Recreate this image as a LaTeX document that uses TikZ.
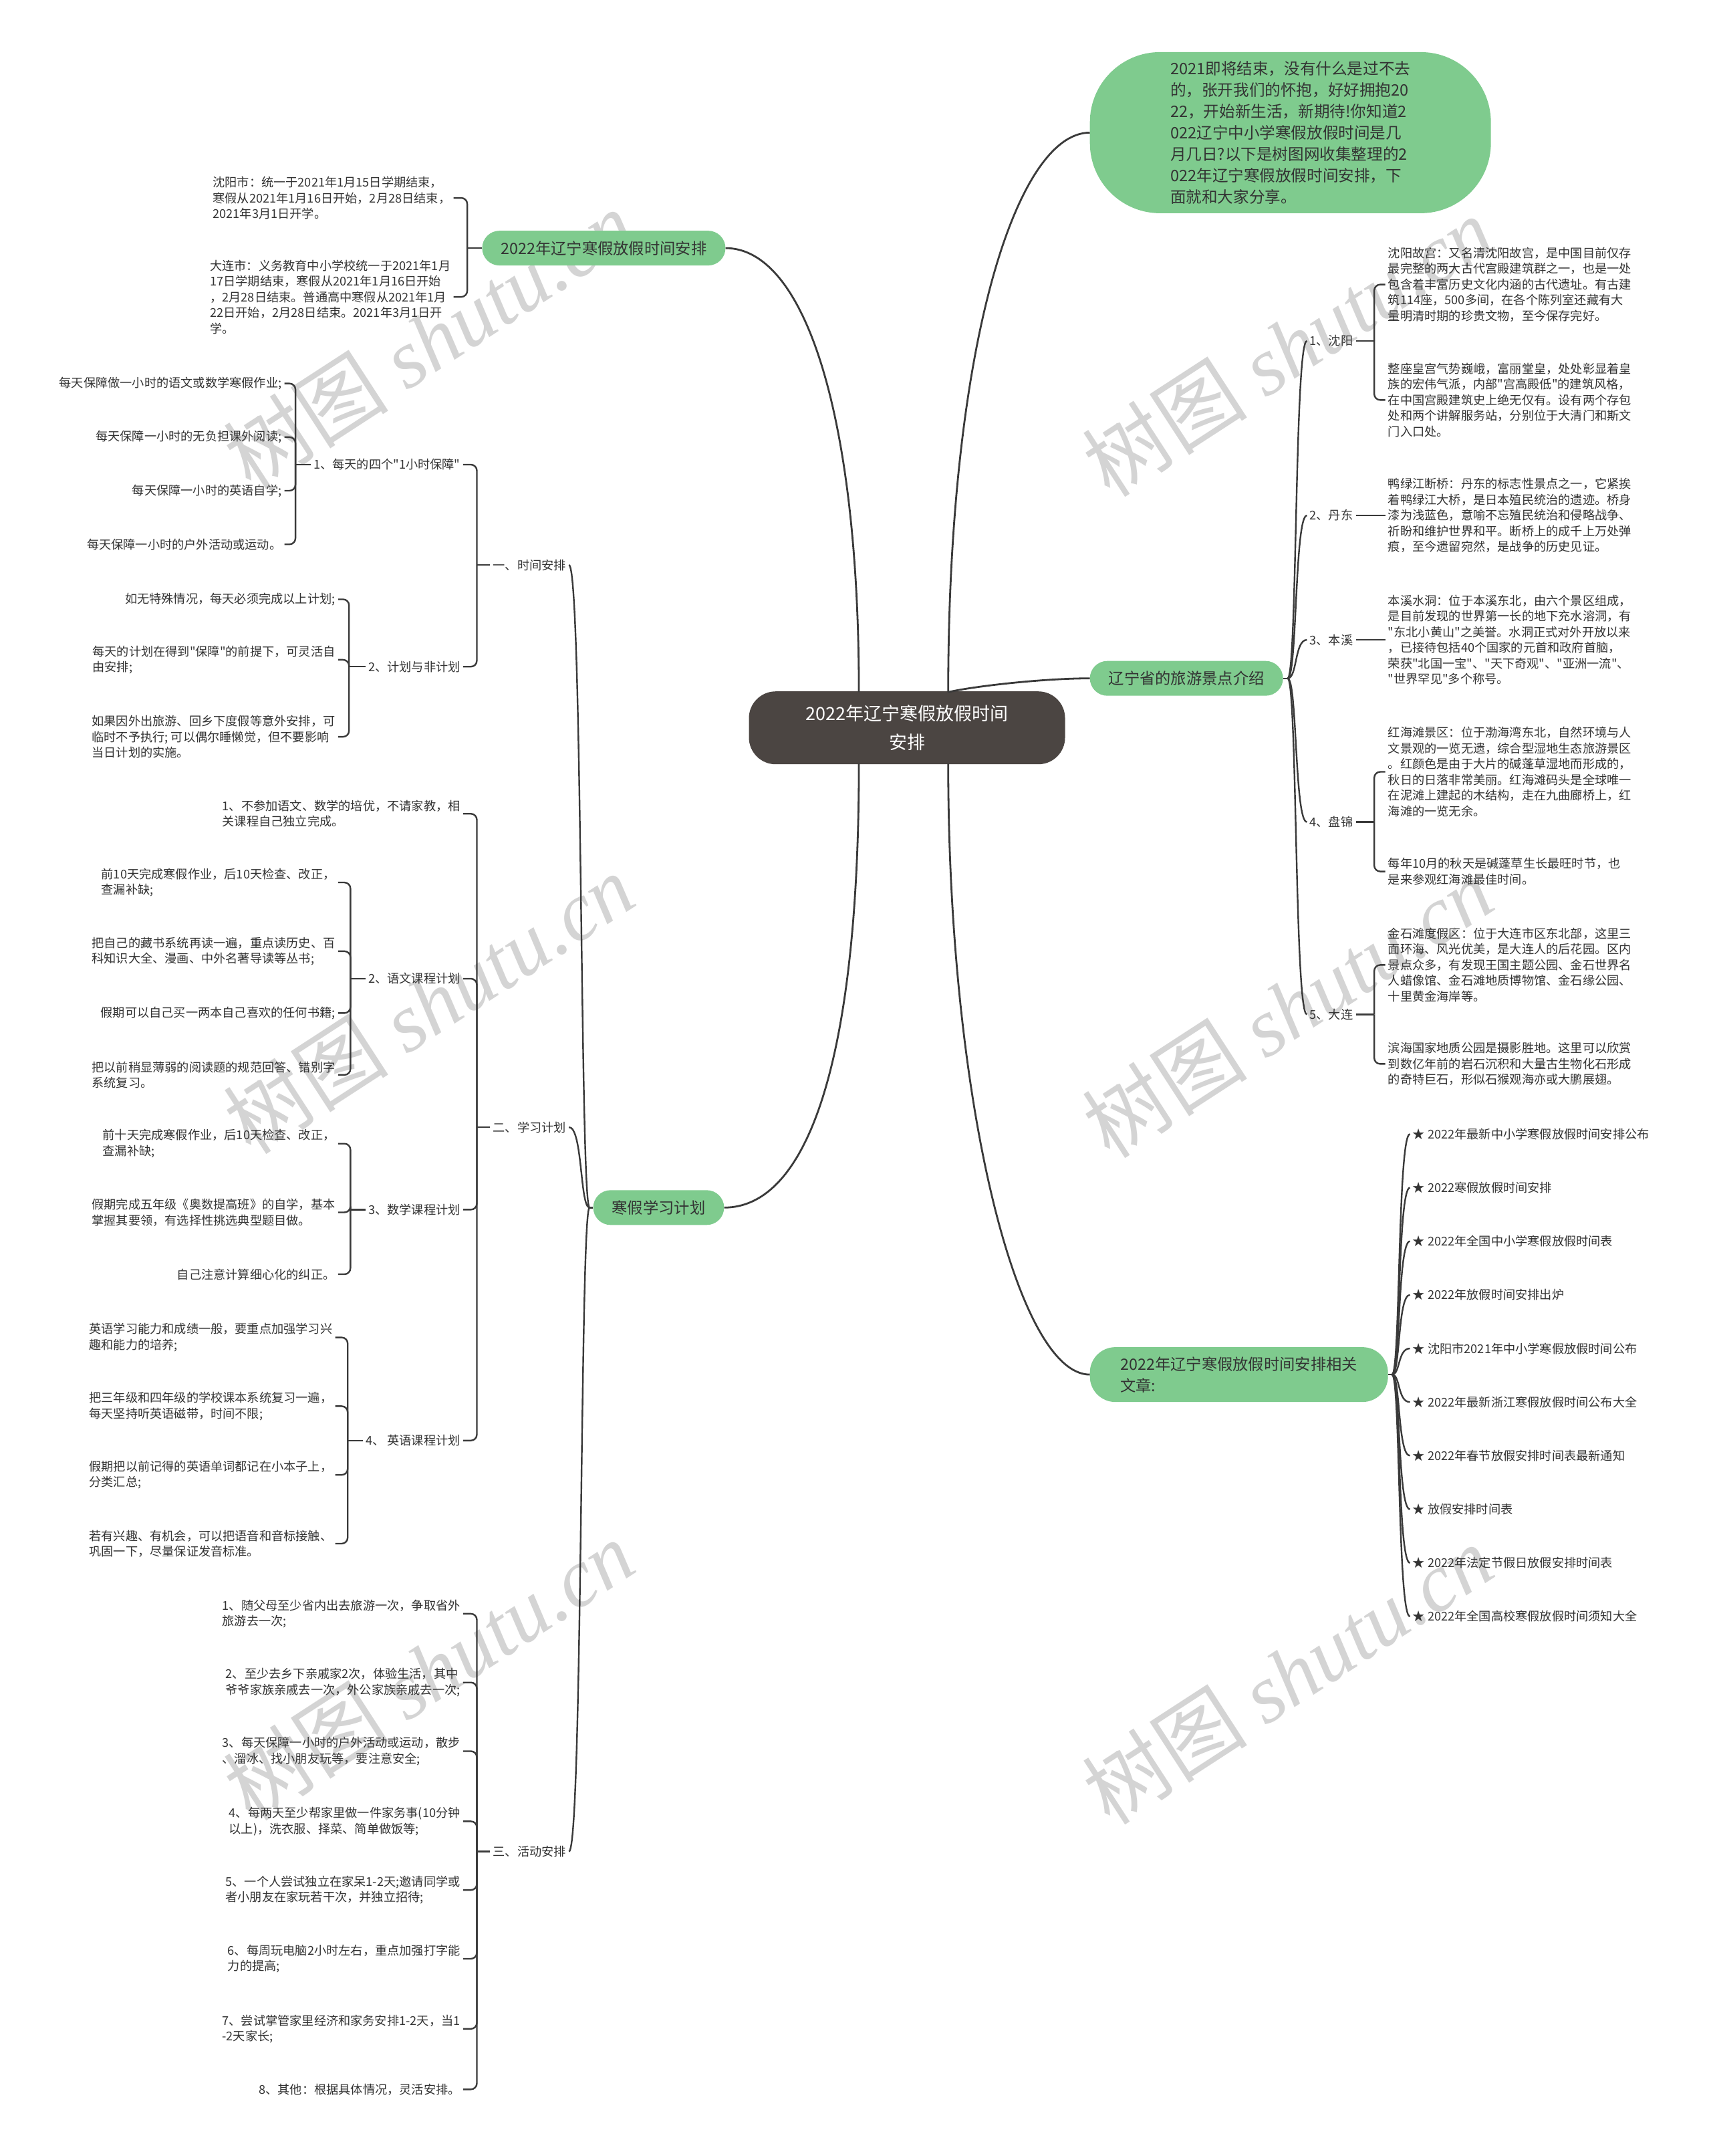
\documentclass[tikz,border=0pt]{standalone}
\usepackage{fontspec}
\setmainfont{Noto Sans CJK SC}[Ligatures=TeXOff]
\newfontfamily\wmserif{Liberation Serif}
\definecolor{linec}{HTML}{3A3A3A}
\definecolor{textc}{HTML}{333333}
\definecolor{greenc}{HTML}{7FCB8E}
\definecolor{darkc}{HTML}{4B4542}
\definecolor{wmc}{HTML}{D4D4D4}
\newcommand\bodyfs{\fontsize{18.2pt}{23.5pt}\selectfont}
\newcommand\pillfs{\fontsize{23.3pt}{32pt}\selectfont}
\newcommand\introfs{\fontsize{23.6pt}{31.9pt}\selectfont}
\newcommand\ctrfs{\fontsize{27pt}{43pt}\selectfont}
\newcommand\wmfs{\fontsize{124pt}{128pt}\selectfont}
\begin{document}
\begin{tikzpicture}[x=2.0562pt,y=-2.0562pt]
\tikzset{
 txt/.style={font=\bodyfs, text=textc, inner xsep=4.1pt, inner ysep=1pt, align=left},
 lt/.style={txt,anchor=east},
 rt/.style={txt,anchor=west},
 pill/.style={fill=greenc, rounded corners=26pt, minimum height=52pt, inner xsep=28pt, font=\pillfs, text=textc},
 br/.style={draw=linec, line width=2.4pt, rounded corners=9pt},
 cv/.style={draw=linec, line width=2.4pt},
 mainln/.style={draw=linec, line width=2.8pt},
 wm/.style={text=wmc, font=\wmfs, inner sep=0pt, rotate=33},
}
\fill[white] (0,0) rectangle (1245,1568.5);
\useasboundingbox (0,0) rectangle (1245,1568.5);

% watermarks
\node[wm] (w1) at (312,247) {树图 {\wmserif\itshape shutu.cn}};
\node[wm] (w2) at (937,252) {树图 {\wmserif\itshape shutu.cn}};
\node[wm] (w3) at (312,730) {树图 {\wmserif\itshape shutu.cn}};
\node[wm] (w4) at (937,733) {树图 {\wmserif\itshape shutu.cn}};
\node[wm] (w5) at (312,1215) {树图 {\wmserif\itshape shutu.cn}};
\node[wm] (w6) at (937,1218) {树图 {\wmserif\itshape shutu.cn}};

% center and main branches
\node[fill=darkc, text=white, rounded corners=40pt, minimum width=473pt, minimum height=109pt, font=\ctrfs, align=center] (ctr) at (660,529.5) {2022年辽宁寒假放假时间\\安排};
\node[pill, anchor=east] (b1) at (528,180.5) {2022年辽宁寒假放假时间安排};
\node[pill, anchor=east] (b2) at (527,878.5) {寒假学习计划};
\node[pill, anchor=west] (b3) at (793,493.5) {辽宁省的旅游景点介绍};
\node[pill, anchor=west, align=left, minimum width=446pt, minimum height=82pt, rounded corners=38pt] (b4) at (793,1000) {2022年辽宁寒假放假时间安排相关\\文章:};
\node[fill=greenc, rounded corners=105pt, minimum width=600pt, minimum height=241pt, font=\introfs, text=textc, align=left, anchor=west] (intro) at (793,96.5) {2021即将结束，没有什么是过不去\\的，张开我们的怀抱，好好拥抱20\\22，开始新生活，新期待!你知道2\\022辽宁中小学寒假放假时间是几\\月几日?以下是树图网收集整理的2\\022年辽宁寒假放假时间安排，下\\面就和大家分享。};

\coordinate (cLt) at (625,503.5);
\coordinate (cLb) at (625,555.5);
\coordinate (cRt) at (690,503.5);
\coordinate (cRb) at (690,555.5);
\draw[mainln] (cLt) .. controls (625,300) and (585,180.5) .. (b1.east);
\draw[mainln] (cLb) .. controls (625,780) and (585,878.5) .. (b2.east);
\draw[mainln] (cRt) .. controls (690,250) and (740,96.5) .. (intro.west);
\draw[mainln] (cRt) .. controls (710,499) and (760,493.5) .. (b3.west);
\draw[mainln] (cRb) .. controls (690,800) and (740,1000) .. (b4.west);

% ---------- left top: 2022年辽宁寒假放假时间安排
\node[lt] (a1) at (330,144) {沈阳市：统一于2021年1月15日学期结束，\\寒假从2021年1月16日开始，2月28日结束，\\2021年3月1日开学。};
\node[lt] (a2) at (330,216) {大连市：义务教育中小学校统一于2021年1月\\17日学期结束，寒假从2021年1月16日开始\\，2月28日结束。普通高中寒假从2021年1月\\22日开始，2月28日结束。2021年3月1日开\\学。};
\draw[br] (a1.east) -| (340,180.5);
\draw[br] (a2.east) -| (340,180.5);
\draw[br] (340,180.5) -- (b1.west);

% ---------- left bottom: 寒假学习计划
\node[lt] (t1) at (414,411) {一、时间安排};
\node[lt] (t2) at (414,820) {二、学习计划};
\node[lt] (t3) at (414,1347) {三、活动安排};
\coordinate (jb2) at (429,878.5);
\draw[cv] (b2.west) -- (jb2);
\draw[cv] (jb2) .. controls (422,878.5) and (424,411) .. (t1.east);
\draw[cv] (jb2) .. controls (422,878.5) and (424,820) .. (t2.east);
\draw[cv] (jb2) .. controls (422,878.5) and (424,1347) .. (t3.east);

% 一、时间安排
\node[lt] (u1) at (337,338) {1、每天的四个"1小时保障"};
\node[lt] (u2) at (337,485) {2、计划与非计划};
\draw[br] (u1.east) -| (347,411);
\draw[br] (u2.east) -| (347,411);
\draw[br] (347,411) -- (t1.west);

\node[lt] (d1) at (207,279) {每天保障做一小时的语文或数学寒假作业;};
\node[lt] (d2) at (207,318) {每天保障一小时的无负担课外阅读;};
\node[lt] (d3) at (207,357) {每天保障一小时的英语自学;};
\node[lt] (d4) at (207,396) {每天保障一小时的户外活动或运动。};
\foreach \n in {d1,d2,d3,d4} {\draw[br] (\n.east) -| (215,338);}
\draw[br] (215,338) -- (u1.west);

\node[lt] (e1) at (246,436) {如无特殊情况，每天必须完成以上计划;};
\node[lt] (e2) at (246,480) {每天的计划在得到"保障"的前提下，可灵活自\\由安排;};
\node[lt] (e3) at (246,536) {如果因外出旅游、回乡下度假等意外安排，可\\临时不予执行; 可以偶尔睡懒觉，但不要影响\\当日计划的实施。};
\foreach \n in {e1,e2,e3} {\draw[br] (\n.east) -| (254,485);}
\draw[br] (254,485) -- (u2.west);

% 二、学习计划
\node[lt] (v1) at (337,592) {1、不参加语文、数学的培优，不请家教，相\\关课程自己独立完成。};
\node[lt] (v2) at (337,712) {2、语文课程计划};
\node[lt] (v3) at (337,880) {3、数学课程计划};
\node[lt] (v4) at (337,1048) {4、 英语课程计划};
\foreach \n in {v1,v2,v3,v4} {\draw[br] (\n.east) -| (347,820);}
\draw[br] (347,820) -- (t2.west);

\node[lt] (g1) at (246,642) {前10天完成寒假作业，后10天检查、改正，\\查漏补缺;};
\node[lt] (g2) at (246,692) {把自己的藏书系统再读一遍，重点读历史、百\\科知识大全、漫画、中外名著导读等丛书;};
\node[lt] (g3) at (246,737) {假期可以自己买一两本自己喜欢的任何书籍;};
\node[lt] (g4) at (246,782) {把以前稍显薄弱的阅读题的规范回答、错别字\\系统复习。};
\foreach \n in {g1,g2,g3,g4} {\draw[br] (\n.east) -| (255,712);}
\draw[br] (255,712) -- (v2.west);

\node[lt] (h1) at (246,832) {前十天完成寒假作业，后10天检查、改正，\\查漏补缺;};
\node[lt] (h2) at (246,882) {假期完成五年级《奥数提高班》的自学，基本\\掌握其要领，有选择性挑选典型题目做。};
\node[lt] (h3) at (246,927) {自己注意计算细心化的纠正。};
\foreach \n in {h1,h2,h3} {\draw[br] (\n.east) -| (255,880);}
\draw[br] (255,880) -- (v3.west);

\node[lt] (i1) at (244,973) {英语学习能力和成绩一般，要重点加强学习兴\\趣和能力的培养;};
\node[lt] (i2) at (244,1023) {把三年级和四年级的学校课本系统复习一遍，\\每天坚持听英语磁带，时间不限;};
\node[lt] (i3) at (244,1073) {假期把以前记得的英语单词都记在小本子上，\\分类汇总;};
\node[lt] (i4) at (244,1123) {若有兴趣、有机会，可以把语音和音标接触、\\巩固一下，尽量保证发音标准。};
\foreach \n in {i1,i2,i3,i4} {\draw[br] (\n.east) -| (253,1048);}
\draw[br] (253,1048) -- (v4.west);

% 三、活动安排
\node[lt] (j1) at (337,1174) {1、随父母至少省内出去旅游一次，争取省外\\旅游去一次;};
\node[lt] (j2) at (337,1224) {2、至少去乡下亲戚家2次，体验生活，其中\\爷爷家族亲戚去一次，外公家族亲戚去一次;};
\node[lt] (j3) at (337,1274) {3、每天保障一小时的户外活动或运动，散步\\、溜冰、找小朋友玩等，要注意安全;};
\node[lt] (j4) at (337,1325) {4、每两天至少帮家里做一件家务事(10分钟\\以上)，洗衣服、择菜、简单做饭等;};
\node[lt] (j5) at (337,1375) {5、一个人尝试独立在家呆1-2天;邀请同学或\\者小朋友在家玩若干次，并独立招待;};
\node[lt] (j6) at (337,1425) {6、每周玩电脑2小时左右，重点加强打字能\\力的提高;};
\node[lt] (j7) at (337,1476) {7、尝试掌管家里经济和家务安排1-2天，当1\\-2天家长;};
\node[lt] (j8) at (337,1520) {8、其他：根据具体情况，灵活安排。};
\foreach \n in {j1,j2,j3,j4,j5,j6,j7,j8} {\draw[br] (\n.east) -| (347,1347);}
\draw[br] (347,1347) -- (t3.west);

% ---------- right: 辽宁省的旅游景点介绍
\node[rt] (r1) at (951,248) {1、沈阳};
\node[rt] (r2) at (951,375) {2、丹东};
\node[rt] (r3) at (951,465.5) {3、本溪};
\node[rt] (r4) at (951,598) {4、盘锦};
\node[rt] (r5) at (951,738) {5、大连};
\coordinate (jb3) at (937,493.5);
\draw[cv] (b3.east) -- (jb3);
\foreach \n/\y in {r1/248,r2/375,r3/465.5,r4/598,r5/738} {\draw[cv] (jb3) .. controls (944,493.5) and (942,\y) .. (\n.west);}

\node[rt] (l1) at (1008,207) {沈阳故宫：又名清沈阳故宫，是中国目前仅存\\最完整的两大古代宫殿建筑群之一，也是一处\\包含着丰富历史文化内涵的古代遗址。有古建\\筑114座，500多间，在各个陈列室还藏有大\\量明清时期的珍贵文物，至今保存完好。};
\node[rt] (l2) at (1008,291) {整座皇宫气势巍峨，富丽堂皇，处处彰显着皇\\族的宏伟气派，内部"宫高殿低"的建筑风格，\\在中国宫殿建筑史上绝无仅有。设有两个存包\\处和两个讲解服务站，分别位于大清门和斯文\\门入口处。};
\draw[br] (l1.west) -| (1000,248);
\draw[br] (l2.west) -| (1000,248);
\draw[br] (1000,248) -- (r1.east);

\node[rt] (m1) at (1008,375) {鸭绿江断桥：丹东的标志性景点之一，它紧挨\\着鸭绿江大桥，是日本殖民统治的遗迹。桥身\\漆为浅蓝色，意喻不忘殖民统治和侵略战争、\\祈盼和维护世界和平。断桥上的成千上万处弹\\痕，至今遗留宛然，是战争的历史见证。};
\draw[br] (r2.east) -- (m1.west);

\node[rt] (n1) at (1008,465.5) {本溪水洞：位于本溪东北，由六个景区组成，\\是目前发现的世界第一长的地下充水溶洞，有\\"东北小黄山"之美誉。水洞正式对外开放以来\\，已接待包括40个国家的元首和政府首脑，\\荣获"北国一宝"、"天下奇观"、"亚洲一流"、\\"世界罕见"多个称号。};
\draw[br] (r3.east) -- (n1.west);

\node[rt] (o1) at (1008,561.5) {红海滩景区：位于渤海湾东北，自然环境与人\\文景观的一览无遗，综合型湿地生态旅游景区\\。红颜色是由于大片的碱蓬草湿地而形成的，\\秋日的日落非常美丽。红海滩码头是全球唯一\\在泥滩上建起的木结构，走在九曲廊桥上，红\\海滩的一览无余。};
\node[rt] (o2) at (1008,634) {每年10月的秋天是碱蓬草生长最旺时节，也\\是来参观红海滩最佳时间。};
\draw[br] (o1.west) -| (1000,598);
\draw[br] (o2.west) -| (1000,598);
\draw[br] (1000,598) -- (r4.east);

\node[rt] (p1) at (1008,702) {金石滩度假区：位于大连市区东北部，这里三\\面环海、风光优美，是大连人的后花园。区内\\景点众多，有发现王国主题公园、金石世界名\\人蜡像馆、金石滩地质博物馆、金石缘公园、\\十里黄金海岸等。};
\node[rt] (p2) at (1008,774) {滨海国家地质公园是摄影胜地。这里可以欣赏\\到数亿年前的岩石沉积和大量古生物化石形成\\的奇特巨石，形似石猴观海亦或大鹏展翅。};
\draw[br] (p1.west) -| (1000,738);
\draw[br] (p2.west) -| (1000,738);
\draw[br] (1000,738) -- (r5.east);

% ---------- right: related articles
\node[rt] (q1) at (1026,825) {★ 2022年最新中小学寒假放假时间安排公布};
\node[rt] (q2) at (1026,864) {★ 2022寒假放假时间安排};
\node[rt] (q3) at (1026,903) {★ 2022年全国中小学寒假放假时间表};
\node[rt] (q4) at (1026,942) {★ 2022年放假时间安排出炉};
\node[rt] (q5) at (1026,981) {★ 沈阳市2021年中小学寒假放假时间公布};
\node[rt] (q6) at (1026,1020) {★ 2022年最新浙江寒假放假时间公布大全};
\node[rt] (q7) at (1026,1059) {★ 2022年春节放假安排时间表最新通知};
\node[rt] (q8) at (1026,1098) {★ 放假安排时间表};
\node[rt] (q9) at (1026,1137) {★ 2022年法定节假日放假安排时间表};
\node[rt] (q10) at (1026,1176) {★ 2022年全国高校寒假放假时间须知大全};
\coordinate (jb4) at (1013,1000);
\draw[cv] (b4.east) -- (jb4);
\foreach \n/\y in {q1/825,q2/864,q3/903,q4/942,q5/981,q6/1020,q7/1059,q8/1098,q9/1137,q10/1176} {\draw[cv] (jb4) .. controls (1019,1000) and (1017,\y) .. (\n.west);}
\end{tikzpicture}
\end{document}
